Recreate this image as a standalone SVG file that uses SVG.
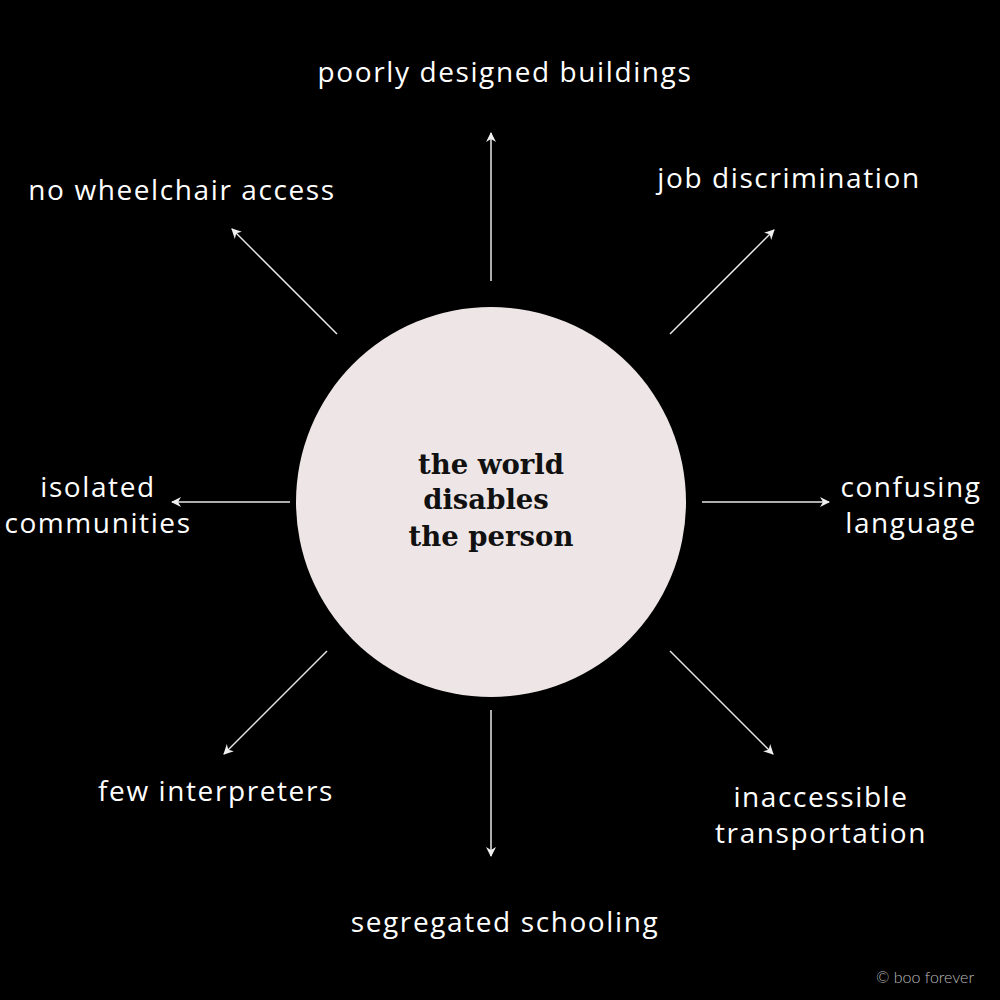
<svg xmlns="http://www.w3.org/2000/svg" width="1000" height="1000" viewBox="0 0 1000 1000">
<style>
.lbl{font-family:"Open Sans","Lato","Liberation Sans",sans-serif;font-size:28px;fill:#ffffff;text-anchor:middle;letter-spacing:1.6px}
.ctr{font-family:"DejaVu Serif","Liberation Serif",serif;font-weight:bold;font-size:27.5px;fill:#111111;text-anchor:middle}
.con{stroke:#e8e8e8;stroke-width:1.5;fill:none;marker-end:url(#ah)}
.cr{font-family:"Lato","Liberation Sans",sans-serif;font-weight:300;font-size:16px;fill:#bbbbbb}
</style>
<defs>
<marker id="ah" viewBox="0 0 10 10" refX="9" refY="5" markerWidth="10" markerHeight="10" markerUnits="userSpaceOnUse" orient="auto">
<path d="M0,0 L10,5 L0,10 L3,5 Z" fill="#f0f0f0"/>
</marker>
</defs>
<rect width="1000" height="1000" fill="#000000"/>
<g id="center">
<circle cx="491" cy="502" r="195" fill="#eee6e6"/>
<text class="ctr" x="491" y="474">the world</text>
<text class="ctr" x="486" y="509">disables</text>
<text class="ctr" x="491" y="546">the person</text>
</g>
<g id="connectors">
<line class="con" x1="491" y1="281" x2="491" y2="133"/>
<line class="con" x1="670" y1="334" x2="774" y2="230"/>
<line class="con" x1="702" y1="502" x2="829" y2="502"/>
<line class="con" x1="670" y1="651" x2="773" y2="754"/>
<line class="con" x1="491" y1="710" x2="491" y2="856"/>
<line class="con" x1="327" y1="651" x2="224" y2="754"/>
<line class="con" x1="290" y1="502" x2="172" y2="502"/>
<line class="con" x1="337" y1="334" x2="232" y2="229"/>
</g>
<g id="n-buildings"><text class="lbl" x="505" y="82">poorly designed buildings</text></g>
<g id="n-job"><text class="lbl" x="789" y="188">job discrimination</text></g>
<g id="n-language"><text class="lbl" x="911" y="497">confusing</text><text class="lbl" x="911" y="533">language</text></g>
<g id="n-transport"><text class="lbl" x="821" y="807">inaccessible</text><text class="lbl" x="821" y="843">transportation</text></g>
<g id="n-schooling"><text class="lbl" x="505" y="932">segregated schooling</text></g>
<g id="n-interpreters"><text class="lbl" x="216" y="801">few interpreters</text></g>
<g id="n-isolated"><text class="lbl" x="98" y="497">isolated</text><text class="lbl" x="98" y="533">communities</text></g>
<g id="n-wheelchair"><text class="lbl" x="182" y="200">no wheelchair access</text></g>
<text class="cr" x="876" y="983">© boo forever</text>
</svg>
